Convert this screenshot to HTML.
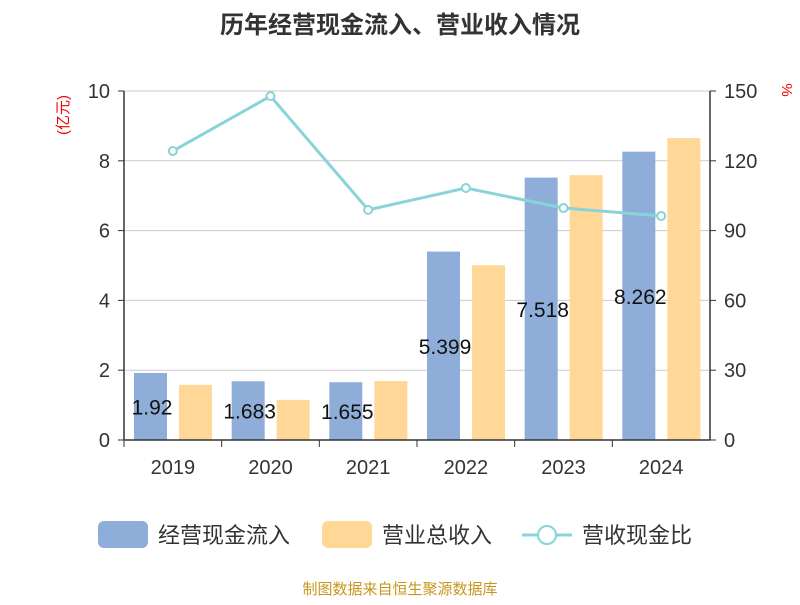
<!DOCTYPE html>
<html><head><meta charset="utf-8"><style>
body{margin:0;background:#fff;font-family:"Liberation Sans","Noto Sans CJK SC",sans-serif}
</style></head><body>
<svg id="c" width="800" height="600" xmlns="http://www.w3.org/2000/svg" font-family="Liberation Sans, Noto Sans CJK SC, sans-serif">
<text x="400" y="33" text-anchor="middle" font-size="24" font-weight="bold" fill="#333">历年经营现金流入、营业收入情况</text>
<text transform="translate(68,115) rotate(-90)" text-anchor="middle" font-size="15" fill="#e00">(亿元)</text>
<text transform="translate(782,90) rotate(90)" text-anchor="middle" font-size="15" fill="#e00">%</text>
<g id="grid"></g><g id="bars"></g><g id="line"></g><g id="axes"></g>
<g>
<rect x="98" y="521" width="50" height="27" rx="6" fill="#8eadd9"/>
<text x="158" y="543" font-size="22" fill="#333">经营现金流入</text>
<rect x="322" y="521" width="50" height="27" rx="6" fill="#ffd898"/>
<text x="382" y="543" font-size="22" fill="#333">营业总收入</text>
<line x1="522" y1="535" x2="572" y2="535" stroke="#88d4d8" stroke-width="3"/>
<circle cx="547" cy="535" r="9" fill="#fff" stroke="#88d4d8" stroke-width="2"/>
<text x="582" y="543" font-size="22" fill="#333">营收现金比</text>
</g>
<text x="400" y="594" text-anchor="middle" font-size="15" fill="#c8961e">制图数据来自恒生聚源数据库</text>
</svg>
<script>
const categories=["2019","2020","2021","2022","2023","2024"];
const cashInflow=[1.92,1.683,1.655,5.399,7.518,8.262];
const revenue=[1.58,1.15,1.69,5.01,7.59,8.65];
const ratio=[124.2,147.8,98.9,108.3,99.7,96.3];
const leftTicks=[0,2,4,6,8,10];
const rightTicks=[0,30,60,90,120,150];
const NS="http://www.w3.org/2000/svg";
const X0=124,X1=710,Y0=440,Y1=91;
const band=(X1-X0)/categories.length;
const yL=v=>Y0-(v/10)*(Y0-Y1);
const yR=v=>Y0-(v/150)*(Y0-Y1);
function mk(tag,attrs,parent,txt){const e=document.createElementNS(NS,tag);for(const k in attrs)e.setAttribute(k,attrs[k]);if(txt!==undefined)e.textContent=txt;document.getElementById(parent).appendChild(e);return e;}
leftTicks.forEach((t,i)=>{
 const g=mk("line",{x1:X0,x2:X1,y1:yL(t),y2:yL(t),stroke:"#ccc","stroke-width":1},"grid");
 
 
 const a=mk("text",{x:X0-14,y:yL(t)+7,"text-anchor":"end","font-size":20,fill:"#333"},"axes",t);
 
 
 const b=mk("text",{x:X1+14,y:yR(rightTicks[i])+7,"font-size":20,fill:"#333"},"axes",rightTicks[i]);
 
 
 const tl=mk("line",{x1:X0-6,x2:X0,y1:yL(t),y2:yL(t),stroke:"#333"},"axes");
 
 
 const tr=mk("line",{x1:X1,x2:X1+6,y1:yR(rightTicks[i]),y2:yR(rightTicks[i]),stroke:"#333"},"axes");
 
 
});
[["left-axis",X0,X0,Y1,Y0],["right-axis",X1,X1,Y1,Y0],["x-axis",X0,X1,Y0,Y0]].forEach(d=>{
 const l=mk("line",{x1:d[1],x2:d[2],y1:d[3],y2:d[4],stroke:"#333","stroke-width":1.5},"axes");
 
 
});
const pts=[];
categories.forEach((c,i)=>{
 const bx=X0+i*band;
 const t=mk("line",{x1:bx,x2:bx,y1:Y0,y2:Y0+7,stroke:"#333"},"axes");
 
 
 const lb=mk("text",{x:bx+band/2,y:Y0+34,"text-anchor":"middle","font-size":20,fill:"#333"},"axes",c);
 
 
 const r1=mk("rect",{x:bx+10,y:yL(cashInflow[i]),width:33,height:Y0-yL(cashInflow[i]),fill:"#8eadd9"},"bars");
 
 
 const r2=mk("rect",{x:bx+55,y:yL(revenue[i]),width:33,height:Y0-yL(revenue[i]),fill:"#ffd898"},"bars");
 
 
 const v=mk("text",{x:bx+28,y:(yL(cashInflow[i])+Y0)/2+8,"text-anchor":"middle","font-size":21,fill:"#111"},"bars",cashInflow[i]);
 
 
 pts.push([bx+band/2,yR(ratio[i])]);
});
const pl=mk("polyline",{points:pts.map(p=>p.join(",")).join(" "),fill:"none",stroke:"#88d4d8","stroke-width":3},"line");


pts.forEach((p,i)=>{
 const c=mk("circle",{cx:p[0],cy:p[1],r:4,fill:"#fff",stroke:"#88d4d8","stroke-width":2},"line");
 
 
});
</script>
</body></html>
